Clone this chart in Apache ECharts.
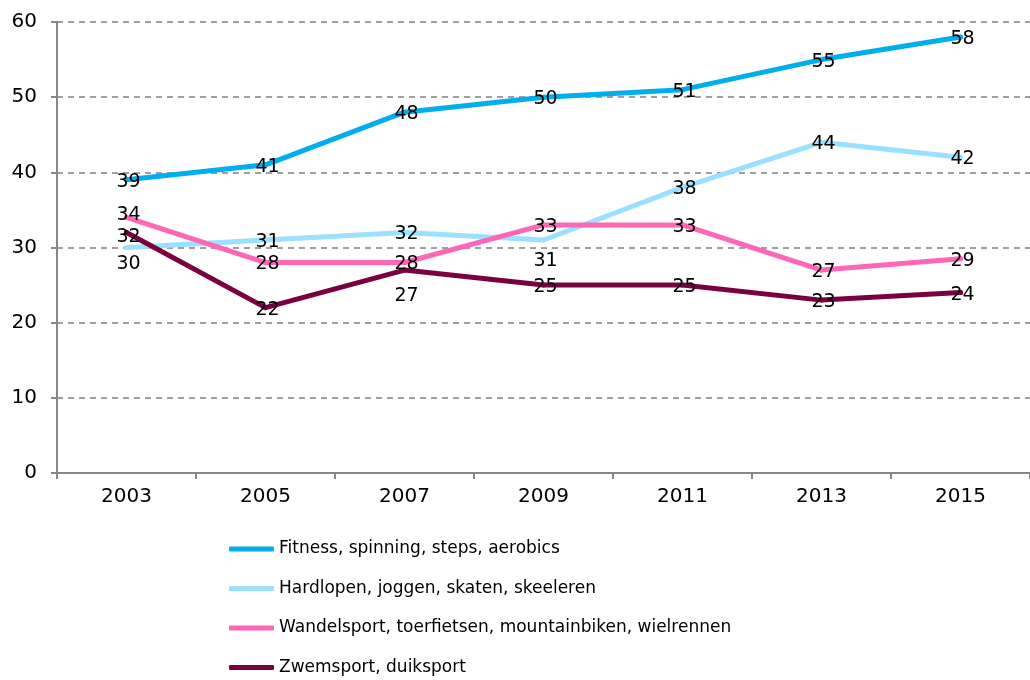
<!DOCTYPE html>
<html>
<head>
<meta charset="utf-8">
<script src="https://cdn.jsdelivr.net/npm/echarts@6/dist/echarts.min.js"></script>
<style>
  html, body { margin: 0; padding: 0; background: #fff; }
  #chart { width: 1030px; height: 680px; }
</style>
</head>
<body>
<div id="chart"></div>
<script>
// categories
var years = ['2003', '2005', '2007', '2009', '2011', '2013', '2015'];

// series values
var fitness = [39, 41, 48, 50, 51, 55, 58];
var hardlopen = [30, 31, 32, 31, 38, 44, 42];
var wandelsport = [34, 28, 28, 33, 33, 27, 28.5];
var zwemsport = [32, 22, 27, 25, 25, 23, 24];

var names = [
  'Fitness, spinning, steps, aerobics',
  'Hardlopen, joggen, skaten, skeeleren',
  'Wandelsport, toerfietsen, mountainbiken, wielrennen',
  'Zwemsport, duiksport'
];
var colors = ['#00AEEF', '#99E1FF', '#FF66B5', '#7A0040'];

// label shifts (px) for a few points where labels sit beside the line
var shifts = [
  [0, 0, 0, 0, 0, 0, 0],
  [15, 0, 0, 19, 0, 0, 0],
  [-4, 0, 0, 0, 0, 0, 0],
  [3, 0, 24, 0, 0, 0, 0]
];

var chart = echarts.init(document.getElementById('chart'));

function makeSeries(idx, values) {
  var data = values.map(function (v, i) {
    return {
      value: v,
      label: {
        show: true,
        // symbol box is 5px, centre is at 2.5
        position: [2.5 + 2, 2.5 + 2 + shifts[idx][i]],
        align: 'center',
        verticalAlign: 'middle'
      }
    };
  });
  return {
    name: names[idx],
    type: 'line',
    data: data,
    showSymbol: true,
    symbol: 'circle',
    symbolSize: 5,
    itemStyle: { color: colors[idx] },
    lineStyle: { width: 5, color: colors[idx], cap: 'round', join: 'round' },
    label: {
      show: true,
      color: '#000',
      fontSize: 19,
      fontFamily: 'DejaVu Sans',
      formatter: function (p) { return Math.round(p.value); }
    },
    emphasis: { disabled: true },
    animation: false
  };
}

var option = {
  animation: false,
  grid: { left: 57, top: 22, width: 985, bottom: 207, containLabel: false },
  legend: {
    orient: 'vertical',
    left: 229,
    top: 539,
    height: 200,
    padding: 0,
    icon: 'roundRect',
    itemWidth: 45,
    itemHeight: 5,
    itemGap: 19.5,
    textStyle: { color: '#000', fontSize: 17, fontFamily: 'DejaVu Sans', lineHeight: 20 },
    data: names
  },
  xAxis: {
    type: 'category',
    data: years,
    boundaryGap: true,
    axisLine: { lineStyle: { color: '#868686', width: 2 } },
    axisTick: { show: true, length: 6, lineStyle: { color: '#868686', width: 2 } },
    axisLabel: { color: '#000', fontSize: 20, fontFamily: 'DejaVu Sans', margin: 14 },
    splitLine: { show: false }
  },
  yAxis: {
    type: 'value',
    min: 0,
    max: 60,
    interval: 10,
    axisLine: { show: true, lineStyle: { color: '#868686', width: 2 } },
    axisTick: { show: true, length: 6, lineStyle: { color: '#868686', width: 2 } },
    axisLabel: { color: '#000', fontSize: 20, fontFamily: 'DejaVu Sans', margin: 20 },
    splitLine: { show: true, lineStyle: { color: '#808080', width: 1.5, type: [6, 5] } }
  },
  series: [
    makeSeries(0, fitness),
    makeSeries(1, hardlopen),
    makeSeries(2, wandelsport),
    makeSeries(3, zwemsport)
  ]
};

chart.setOption(option);
</script>
</body>
</html>
